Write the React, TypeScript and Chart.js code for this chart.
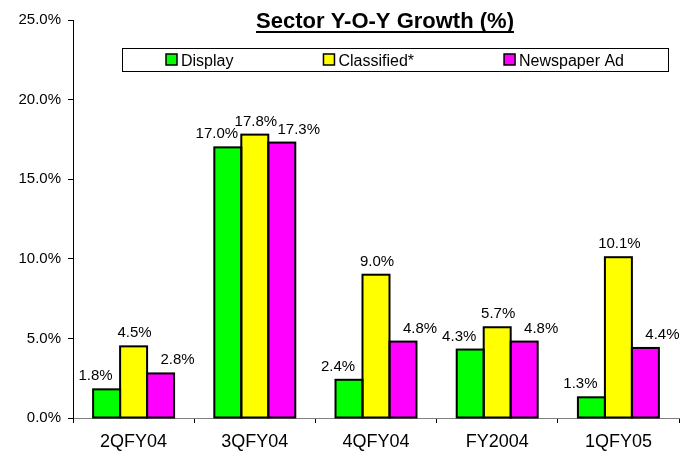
import React, { useEffect, useRef } from 'react';
import { Chart, registerables } from 'chart.js';

Chart.register(...registerables);

const FONT = '"Liberation Sans", Arial, Helvetica, sans-serif';

const categories = ['2QFY04', '3QFY04', '4QFY04', 'FY2004', '1QFY05'];
const display = [1.8, 17.0, 2.4, 4.3, 1.3];
const classified = [4.5, 17.8, 9.0, 5.7, 10.1];
const newspaper = [2.8, 17.3, 4.8, 4.8, 4.4];
const seriesNames = ['Display', 'Classified*', 'Newspaper Ad'];
const titleText = 'Sector Y-O-Y Growth (%)';
const yMin = 0;
const yMax = 25;
const yStep = 5;

const colors = ['#00FF00', '#FFFF00', '#FF00FF'];
const labelOffsets = [-11, 1, 17];

export default function App() {
  const ref = useRef<HTMLCanvasElement | null>(null);

  useEffect(() => {
    document.body.style.margin = '0';
    const canvas = ref.current;
    if (!canvas) return;
    const series = [display, classified, newspaper];

    const decorPlugin = {
      id: 'decor',
      afterDatasetsDraw(chart: any) {
        const ctx = chart.ctx;
        ctx.save();
        ctx.strokeStyle = '#000';
        ctx.lineWidth = 2;
        chart.data.datasets.forEach((_ds: any, i: number) => {
          const meta = chart.getDatasetMeta(i);
          meta.data.forEach((el: any) => {
            const { x, y, base, width } = el.getProps(['x', 'y', 'base', 'width'], true);
            ctx.strokeRect(x - width / 2, y, width, base - y);
          });
        });
        ctx.fillStyle = '#000';
        ctx.font = `15px ${FONT}`;
        ctx.textAlign = 'center';
        ctx.textBaseline = 'alphabetic';
        chart.data.datasets.forEach((ds: any, i: number) => {
          const meta = chart.getDatasetMeta(i);
          meta.data.forEach((el: any, j: number) => {
            const { x, y } = el.getProps(['x', 'y'], true);
            const v = Number(ds.data[j]);
            ctx.fillText(v.toFixed(1) + '%', x + labelOffsets[i], y - 9);
          });
        });
        ctx.restore();
      },
      afterDraw(chart: any) {
        const ctx = chart.ctx;
        ctx.save();
        // Title
        ctx.font = `bold 22px ${FONT}`;
        ctx.fillStyle = '#000';
        ctx.textAlign = 'center';
        ctx.textBaseline = 'alphabetic';
        const tx = 385;
        const ty = 28;
        ctx.fillText(titleText, tx, ty);
        const tw = ctx.measureText(titleText).width;
        ctx.fillRect(tx - tw / 2, ty + 3, tw, 2);

        // Legend box
        const bx = 122, by = 48, bw = 546, bh = 23;
        ctx.fillStyle = '#fff';
        ctx.fillRect(bx, by, bw, bh);
        ctx.strokeStyle = '#000';
        ctx.lineWidth = 1;
        ctx.strokeRect(bx + 0.5, by + 0.5, bw, bh);
        ctx.font = `16px ${FONT}`;
        ctx.textAlign = 'left';
        const sq = 11, sqGap = 4, itemGap = 90;
        const widths = seriesNames.map((n) => sq + sqGap + ctx.measureText(n).width);
        const total = widths.reduce((a, b) => a + b, 0) + itemGap * (seriesNames.length - 1);
        let x = bx + bw / 2 - total / 2;
        seriesNames.forEach((n, i) => {
          ctx.fillStyle = colors[i];
          ctx.fillRect(x, 54, sq, sq);
          ctx.strokeStyle = '#000';
          ctx.lineWidth = 1.5;
          ctx.strokeRect(x, 54, sq, sq);
          ctx.fillStyle = '#000';
          ctx.fillText(n, x + sq + sqGap, 65.5);
          x += widths[i] + itemGap;
        });
        ctx.restore();
      },
    };

    const chart = new Chart(canvas, {
      type: 'bar',
      data: {
        labels: categories,
        datasets: series.map((d, i) => ({
          label: seriesNames[i],
          data: d,
          backgroundColor: colors[i],
          borderWidth: 0,
          categoryPercentage: 0.668,
          barPercentage: 1,
        })),
      },
      options: {
        responsive: false,
        animation: false,
        devicePixelRatio: 1,
        layout: { padding: { top: 20, right: 6, left: 0, bottom: 0 } },
        plugins: {
          legend: { display: false },
          title: { display: false },
          tooltip: { enabled: false },
        },
        scales: {
          x: {
            grid: {
              display: true,
              drawOnChartArea: false,
              drawTicks: true,
              tickLength: 5,
              color: '#000',
              offset: true,
            },
            border: { display: true, color: '#808080', width: 1 },
            ticks: { font: { family: FONT, size: 18 }, color: '#000', padding: 8 },
            afterFit(s: any) {
              s.height = 39;
            },
          },
          y: {
            min: yMin,
            max: yMax,
            ticks: {
              stepSize: yStep,
              callback: (v: any) => Number(v).toFixed(1) + '%',
              font: { family: FONT, size: 15 },
              color: '#000',
              padding: 7,
            },
            grid: { drawOnChartArea: false, tickLength: 5, color: '#000' },
            border: { display: true, color: '#000', width: 1 },
            afterFit(s: any) {
              s.width = 73;
            },
          },
        },
      },
      plugins: [decorPlugin],
    });

    return () => chart.destroy();
  }, []);

  return <canvas ref={ref} width={685} height={457} style={{ display: 'block' }} />;
}
